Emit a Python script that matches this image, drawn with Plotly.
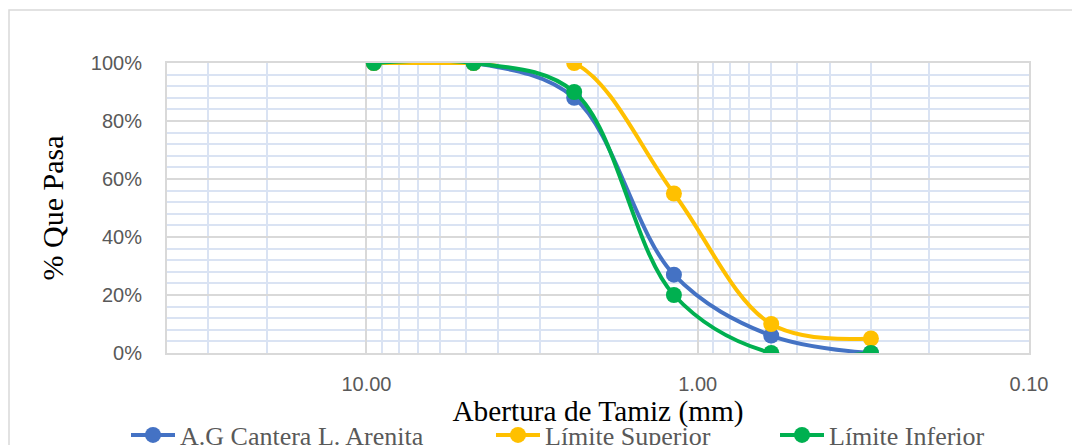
import plotly.graph_objects as go
import math

tamiz_mm = [9.5, 4.75, 2.36, 1.18, 0.6, 0.3]
arenita = [1.00, 1.00, 0.88, 0.27, 0.06, 0.00]
lim_sup = [1.00, 1.00, 1.00, 0.55, 0.10, 0.05]
lim_inf = [1.00, 1.00, 0.90, 0.20, 0.00, 0.00]

series = [
    ("A.G Cantera L. Arenita", arenita, "#4472C4", "legend", 126),
    ("Límite Superior", lim_sup, "#FFC000", "legend2", 491),
    ("Límite Inferior", lim_inf, "#00B050", "legend3", 775),
]

OFF = 8  # page body offset
W, H = 1080, 445
L, T = 167 - OFF, 63 - OFF
R = W - (1029 - OFF)
B = H - (353 - OFF)
pw, ph = W - L - R, H - T - B

fig = go.Figure()
for name, vals, col, lg, _ in series:
    fig.add_trace(go.Scatter(
        x=tamiz_mm, y=vals, name=name, mode="lines+markers",
        line=dict(color=col, width=4, shape="spline", smoothing=1.0),
        marker=dict(color=col, size=16),
        legend=lg,
    ))

grid_major = "#D9D9D9"
grid_minor = "#DAE3F3"
tick_font = dict(family="Liberation Sans", size=20, color="#595959")
leg_font = dict(family="Liberation Serif", size=26, color="#595959")

legend_y = -((435 - OFF) - (T + ph)) / ph
legends = {}
for name, vals, col, lg, o_page in series:
    legends[lg] = dict(
        orientation="h", x=(o_page - OFF - L) / pw, xanchor="left",
        y=legend_y, yanchor="middle", font=leg_font,
        itemwidth=44, bgcolor="rgba(0,0,0,0)", borderwidth=0,
    )

fig.update_layout(
    width=W, height=H,
    margin=dict(l=L, r=R, t=T, b=B, autoexpand=False),
    paper_bgcolor="white", plot_bgcolor="white",
    showlegend=True,
    xaxis=dict(
        type="log", range=[math.log10(40), -1],
        dtick=1, tickformat=".2f", tickfont=tick_font,
        showgrid=True, gridcolor=grid_major, gridwidth=1.5,
        minor=dict(dtick="D1", showgrid=True, gridcolor=grid_minor, gridwidth=1.5),
        showline=True, linecolor=grid_major, linewidth=2, mirror=True,
        ticks="", ticklabelstandoff=12,
        title=dict(text="Abertura de Tamiz (mm)",
                   font=dict(family="Liberation Serif", size=29.3, color="black"),
                   standoff=0),
        zeroline=False,
    ),
    yaxis=dict(
        range=[0, 1], dtick=0.2, tickformat=".0%", tickfont=tick_font,
        showgrid=True, gridcolor=grid_major, gridwidth=1.5,
        minor=dict(dtick=0.04, showgrid=True, gridcolor=grid_minor, gridwidth=1.5),
        showline=True, linecolor=grid_major, linewidth=2, mirror=True,
        ticks="", ticklabelstandoff=19,
        title=dict(text="% Que Pasa",
                   font=dict(family="Liberation Serif", size=30, color="black"),
                   standoff=18),
        zeroline=False,
    ),
    shapes=[dict(type="rect", xref="paper", yref="paper",
                 x0=(1 - L) / pw, x1=(W + 20 - L) / pw,
                 y0=-(H + 20 - (T + ph)) / ph, y1=1 + (T - 2) / ph,
                 line=dict(color="#D9D9D9", width=1.5), fillcolor="rgba(0,0,0,0)",
                 layer="below")],
    **legends,
)

fig.write_html("out.html")
